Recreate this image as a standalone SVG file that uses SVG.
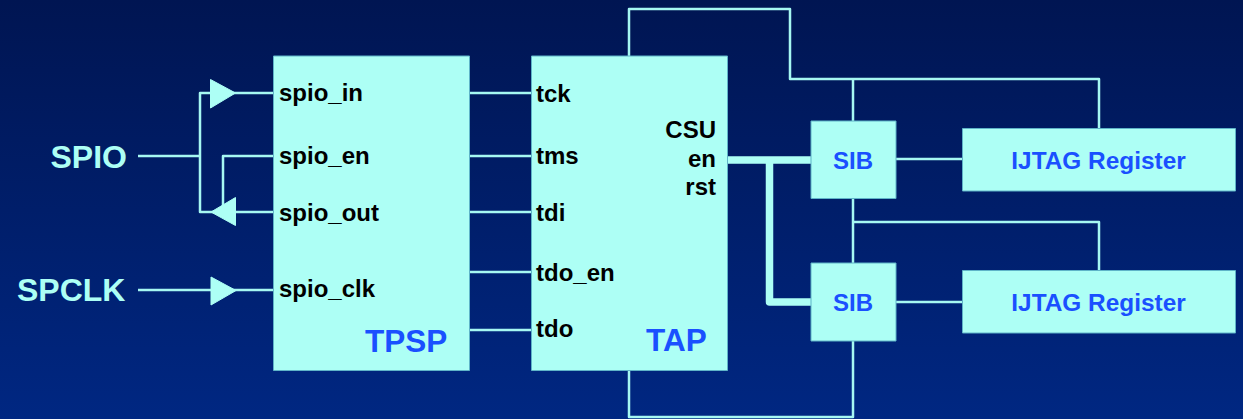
<svg xmlns="http://www.w3.org/2000/svg" width="1243" height="419" viewBox="0 0 1243 419">
<defs>
<linearGradient id="bg" x1="0" y1="0" x2="0" y2="1"><stop offset="0" stop-color="#001552"/><stop offset="1" stop-color="#002782"/></linearGradient>
<style>
.box{fill:#adfff5;stroke:#5fb4c8;stroke-width:1;stroke-linejoin:round}
.w{fill:none;stroke:#a6f8f2;stroke-width:2.5;stroke-linejoin:round}
.t{fill:none;stroke:#adfff5;stroke-width:7.5;stroke-linejoin:round}
.tri{fill:#adfff5;stroke:#adfff5;stroke-width:1;stroke-linejoin:round}
text{font-family:"Liberation Sans",Arial,sans-serif;font-weight:bold}
.p{font-size:24px;fill:#000}
.l{font-size:32px;fill:#adfff5}
.b{fill:#1a50ff}
</style>
</defs>
<rect width="1243" height="419" fill="url(#bg)"/>
<g id="connectors">
<path class="w" d="M138 156H200M273 93H200V212H273M273 156H223V212"/>
<path class="w" d="M138 290H273"/>
<path class="w" d="M469 93H531M469 156H531M469 212H531M469 272H531M469 330H531"/>
<path class="w" d="M629 56V9H790V79H1099V128M853 79V121"/>
<path class="w" d="M853 198V263M853 222H1099V270"/>
<path class="w" d="M629 370V417H853V341"/>
<path class="w" d="M896 159H962M896 302H962"/>
<path class="t" d="M727 160H811M769.500 160V302H811"/>
<polygon class="tri" points="210.500,79.500 235.500,93 210.500,108"/>
<polygon class="tri" points="235.500,197.500 211,212 235.500,225.500"/>
<polygon class="tri" points="211,277 236,290.500 211,305"/>
</g>
<g id="spio"><text class="l" x="50.500" y="168">SPIO</text></g>
<g id="spclk"><text class="l" x="17" y="301">SPCLK</text></g>
<g id="tpsp">
<rect class="box" x="273.500" y="56" width="196" height="314.500"/>
<text class="p" x="279" y="101">spio_in</text>
<text class="p" x="279" y="164">spio_en</text>
<text class="p" x="279" y="221">spio_out</text>
<text class="p" x="279" y="297">spio_clk</text>
<text class="b" x="365" y="352" font-size="31.500">TPSP</text>
</g>
<g id="tap">
<rect class="box" x="531.500" y="56" width="196" height="314.500"/>
<text class="p" x="536" y="102">tck</text>
<text class="p" x="536" y="164">tms</text>
<text class="p" x="536" y="221">tdi</text>
<text class="p" x="536" y="281">tdo_en</text>
<text class="p" x="536" y="337">tdo</text>
<text class="p" x="716" y="138" text-anchor="end">CSU</text>
<text class="p" x="716" y="167" text-anchor="end">en</text>
<text class="p" x="716" y="195" text-anchor="end">rst</text>
<text class="b" x="646" y="351" font-size="31.500">TAP</text>
</g>
<g id="sib1"><rect class="box" x="811" y="121" width="85" height="77.500"/><text class="b" x="853" y="169" font-size="24" text-anchor="middle">SIB</text></g>
<g id="sib2"><rect class="box" x="811" y="263" width="85" height="78"/><text class="b" x="853" y="311" font-size="24" text-anchor="middle">SIB</text></g>
<g id="reg1"><rect class="box" x="962.500" y="128.500" width="273" height="62.500"/><text class="b" x="1098.500" y="169" font-size="24.400" text-anchor="middle">IJTAG Register</text></g>
<g id="reg2"><rect class="box" x="962.500" y="270.500" width="273" height="62.500"/><text class="b" x="1098.500" y="311" font-size="24.400" text-anchor="middle">IJTAG Register</text></g>
</svg>
